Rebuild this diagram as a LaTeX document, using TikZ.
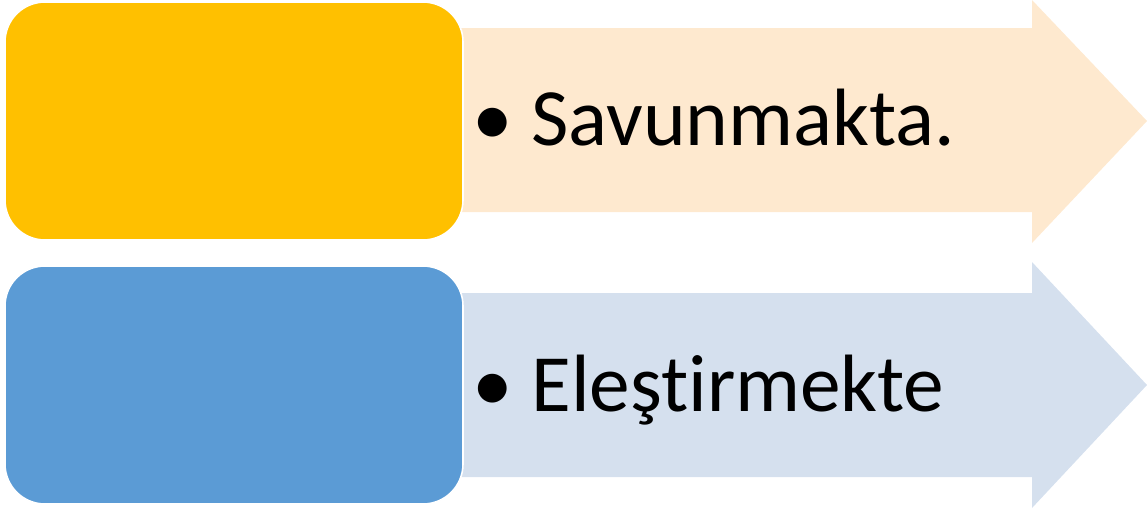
\documentclass[tikz,border=0pt]{standalone}
\usepackage{fontspec}
\setmainfont{Carlito}[Ligatures=NoCommon]
\usetikzlibrary{positioning}
\definecolor{topBox}{RGB}{255, 192, 0}
\definecolor{topArrow}{RGB}{254, 233, 207}
\definecolor{lowBox}{RGB}{91, 155, 213}
\definecolor{lowArrow}{RGB}{213, 224, 238}

\begin{document}
\begin{tikzpicture}[x=0.75pt, y=-0.75pt]

% Style definitions
\tikzset{
    tag/.style={
        rectangle, draw=white, line width=1.2pt, rounded corners=30pt,
        minimum width=343.5pt, minimum height=178.5pt, inner sep=0pt
    },
    bullettext/.style={anchor=base west, font=\fontsize{61}{70}\selectfont, inner sep=0pt}
}

\useasboundingbox (0,0) rectangle (1147,512);

% Arrows behind
\fill [topArrow] (440,28) -- (1032,28) -- (1032,0) -- (1147,121)
    -- (1032,243) -- (1032,212) -- (440,212) -- cycle;
\fill [lowArrow] (440,293) -- (1032,293) -- (1032,262) -- (1147,385)
    -- (1032,508) -- (1032,477) -- (440,477) -- cycle;

% Boxes
\node (top_box) [tag, fill=topBox] at (234,121) {};
\node (low_box) [tag, fill=lowBox] at (234,385) {};

% Texts
\node (top_text) [bullettext] at (472,145) {\textbullet\hspace{14pt}Savunmakta.};
\node (low_text) [bullettext] at (472,411) {\textbullet\hspace{14pt}Eleşt\kern0pt irmekte};

\end{tikzpicture}
\end{document}
